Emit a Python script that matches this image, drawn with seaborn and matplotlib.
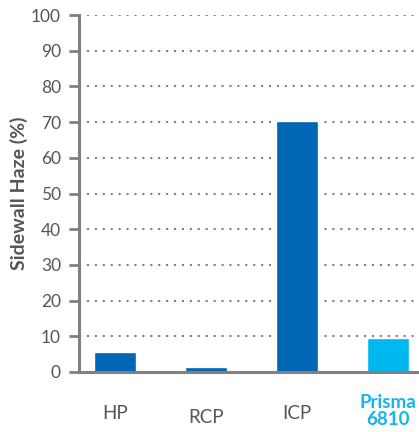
import matplotlib
matplotlib.use("Agg")
import matplotlib.pyplot as plt
import matplotlib.transforms as mtransforms
import seaborn as sns

# data
categories = ["HP", "RCP", "ICP", "Prisma 6810"]
tick_labels = ["HP", "RCP", "ICP", "Prisma\n6810"]
haze = [5.5, 1.5, 70.2, 9.5]
bar_colors = ["#0067b4", "#0067b4", "#0067b4", "#00b8f0"]
label_colors = ["#555555", "#555555", "#555555", "#14b4ec"]
label_weights = ["normal", "normal", "normal", "bold"]
label_y = [-0.115, -0.128, -0.115, -0.108]

GRAY = "#808080"
TEXT = "#555555"

sns.set_style("white")
plt.rcParams["font.family"] = ["Lato", "DejaVu Sans"]

fig = plt.figure(figsize=(4.19, 4.32), dpi=100)
ax = fig.add_axes([79 / 419, 60 / 432, 340 / 419, 357 / 432])

sns.barplot(x=categories, y=haze, hue=categories, palette=bar_colors,
            width=0.47, legend=False, saturation=1, ax=ax, zorder=3)

ax.set_ylim(0, 100)
ax.set_xlim(-0.396, 3.34)
ax.set_yticks(range(0, 101, 10))
ax.tick_params(axis="y", colors=GRAY, labelcolor=TEXT, labelsize=12.5,
               length=7, width=2, direction="out", pad=6, left=True)
ax.tick_params(axis="x", length=0, bottom=False)
ax.set_xticks(range(len(categories)))
ax.set_xticklabels([""] * len(categories))

ax.yaxis.grid(True, color=GRAY, linestyle=(0, (1, 2.8)), linewidth=1.5, zorder=1)
ax.xaxis.grid(False)
ax.set_axisbelow(True)

for side in ["top", "right"]:
    ax.spines[side].set_visible(False)
for side in ["left", "bottom"]:
    ax.spines[side].set_color(GRAY)
    ax.spines[side].set_linewidth(2.2)
    ax.spines[side].set_zorder(4)

# category labels under the bars
trans = mtransforms.blended_transform_factory(ax.transData, ax.transAxes)
for i, lab in enumerate(tick_labels):
    ax.text(i, label_y[i], lab, transform=trans, ha="center", va="center",
            fontsize=13.5, color=label_colors[i], fontweight=label_weights[i],
            linespacing=1.0)

ax.set_xlabel("")
ax.set_ylabel("Sidewall Haze (%)", fontsize=14, fontweight="bold",
              color=TEXT, labelpad=2)

fig.savefig("out.png", dpi=100)
plt.close(fig)
